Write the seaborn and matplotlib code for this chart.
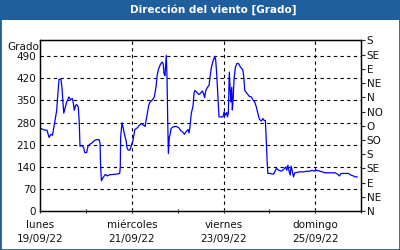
import matplotlib
matplotlib.use("Agg")
import matplotlib.pyplot as plt
import seaborn as sns
import pandas as pd
from matplotlib.patches import Rectangle

# hours since 19/09/22 00:00
hours = [0.4, 2.5, 3.5, 4.6, 5.6, 6.4, 7.2, 7.7, 8.6, 8.9, 9.8, 10.8, 11.4, 11.9, 12.3,
         13.1, 13.8, 15.0, 15.9, 16.8, 17.3, 17.8, 18.5, 19.1, 19.9, 20.4, 20.8, 21.7,
         22.7, 23.3, 24.3, 25.0, 25.8, 26.7, 28.1, 29.3, 30.8, 31.3, 31.6, 32.0, 32.9,
         34.1, 35.1, 36.4, 39.0, 41.6, 41.9, 42.1, 42.8, 43.5, 44.2, 44.9, 45.4, 46.0,
         47.0, 47.7, 48.6, 49.5, 50.3, 51.0, 51.9, 53.1, 54.0, 54.9, 55.4, 55.9, 56.8,
         57.5, 58.9, 59.7, 60.6, 61.2, 62.0, 62.9, 63.8, 64.4, 64.8, 65.3, 65.7, 66.0,
         66.4, 66.8, 67.1, 67.6, 68.1, 68.5, 69.4, 71.1, 72.5, 73.7, 74.6, 75.5, 76.2,
         77.4, 77.9, 78.4, 79.1, 80.0, 80.5, 81.0, 82.3, 83.2, 84.1, 84.9, 85.4, 86.1,
         86.7, 87.5, 88.4, 88.9, 89.6, 90.5, 91.4, 91.9, 92.4, 92.7, 93.1, 93.6, 94.8,
         95.7, 96.3, 96.9, 97.7, 98.0, 98.5, 99.0, 99.8, 100.3, 100.6, 101.0, 101.5,
         102.2, 103.1, 104.0, 104.8, 106.1, 106.6, 107.1, 108.3, 109.5, 110.6, 111.3,
         112.3, 113.2, 114.1, 114.8, 115.8, 116.6, 117.2, 117.9, 118.3, 118.8, 119.2,
         120.5, 121.4, 122.3, 122.8, 123.7, 124.9, 126.3, 127.7, 128.6, 129.1, 129.7,
         130.4, 130.9, 131.4, 132.1, 132.6, 133.3, 134.4, 135.7, 137.8, 139.6, 141.3,
         142.2, 143.1, 144.8, 147.5, 149.2, 154.4, 155.6, 156.7, 157.6, 161.4, 162.6,
         164.0, 164.9, 166.1]
direction = [261, 256, 256, 233, 243, 240, 268, 287, 319, 347, 417, 417, 388, 341, 310,
             329, 345, 361, 353, 356, 341, 319, 335, 337, 329, 282, 205, 208,
             201, 185, 185, 205, 211, 214, 222, 226, 226, 214, 140, 96, 106,
             116, 111, 115, 116, 119, 140, 235, 279, 261, 240, 224, 201, 193,
             193, 208, 224, 258, 261, 264, 272, 277, 272, 268, 287, 303, 335,
             345, 353, 361, 392, 429, 451, 464, 472, 466, 435, 429, 466, 493,
             419, 266, 182, 235, 245, 261, 266, 268, 264, 254, 250, 243, 250,
             258, 247, 266, 309, 332, 372, 382, 374, 369, 374, 380, 374, 359,
             382, 391, 398, 424, 454, 475, 490, 477, 435, 403, 356, 298, 298,
             298, 314, 303, 312, 298, 309, 440, 345, 392, 320, 350, 419,
             456, 468, 466, 456, 447, 424, 382, 372, 363, 361, 353,
             345, 329, 306, 290, 285, 293, 287, 287, 235, 161, 119,
             119, 117, 117, 124, 135, 129, 126, 133, 140, 129, 145,
             124, 114, 142, 124, 108, 121, 122, 124, 124, 126, 126,
             129, 127, 129, 124, 121, 121, 117, 111, 119, 119, 114,
             111, 108, 108]

left_ticks = [0, 70, 140, 210, 280, 350, 420, 490]
right_ticks = [0, 45, 90, 135, 180, 225, 270, 315, 360, 405, 450, 495, 540]
right_labels = ["N", "NE", "E", "SE", "S", "SO", "O", "NO", "N", "NE", "E", "SE", "S"]
x_major = [0, 48, 96, 144]
x_labels = ["lunes\n19/09/22", "miércoles\n21/09/22", "viernes\n23/09/22", "domingo\n25/09/22"]
x_minor = [24, 72, 120, 168]

sns.set_theme(style="white")
plt.rcParams['font.family'] = ['DejaVu Sans']

fig = plt.figure(figsize=(4, 2.5), dpi=100)
fig.patch.set_facecolor("white")
blue = "#1f5f9e"
fig.patches.append(Rectangle((0, 0), 1, 1, transform=fig.transFigure, facecolor="none",
                             edgecolor=blue, linewidth=2.0, zorder=0))
fig.patches.append(Rectangle((0, 1 - 20 / 250), 1, 20 / 250, transform=fig.transFigure,
                             facecolor=blue, edgecolor="none", zorder=1))
fig.text(213 / 400, 1 - 10 / 250, "Dirección del viento [Grado]", color="white",
         fontsize=7.5, fontweight="bold", ha="center", va="center")

ax = fig.add_axes([40.3 / 400, 1 - 211 / 250, (361 - 40.3) / 400, (211 - 40.5) / 250])
df = pd.DataFrame({"h": hours, "d": direction})
sns.lineplot(data=df, x="h", y="d", ax=ax, color="#0000ff", linewidth=0.9)
ax.set_xlim(0, 168)
ax.set_ylim(0, 540)
ax.set_xlabel("")
ax.set_ylabel("")
ax.set_yticks(left_ticks)
ax.set_yticklabels([str(t) for t in left_ticks], fontsize=7.5, color="#111111")
ax.set_xticks(x_major)
ax.set_xticklabels(x_labels, fontsize=7.5, color="#111111", linespacing=1.55)
ax.set_xticks(x_minor, minor=True)
ax.tick_params(axis="y", length=0, pad=3)
ax.tick_params(axis="x", which="both", length=3, direction="inout", width=0.8, pad=5,
               bottom=True)
for t in left_ticks[1:]:
    ax.axhline(t, color="black", linestyle=(0, (3, 3)), linewidth=0.8, zorder=0)
for t in x_major[1:]:
    ax.axvline(t, color="black", linestyle=(0, (3, 3)), linewidth=0.8, zorder=0)
for s in ax.spines.values():
    s.set_color("black")
    s.set_linewidth(0.9)

ax2 = ax.twinx()
ax2.set_ylim(0, 540)
ax2.set_yticks(right_ticks)
ax2.set_yticklabels(right_labels, fontsize=7.5, color="#111111")
ax2.tick_params(axis="y", length=3, width=0.8, pad=1, right=True, direction="out")
ax2.grid(False)
for s in ax2.spines.values():
    s.set_color("black")
    s.set_linewidth(0.9)

fig.text(23 / 400, 1 - 46.5 / 250, "Grado", fontsize=7.5, color="#111111",
         ha="center", va="center")

fig.savefig("out.png", dpi=100)
